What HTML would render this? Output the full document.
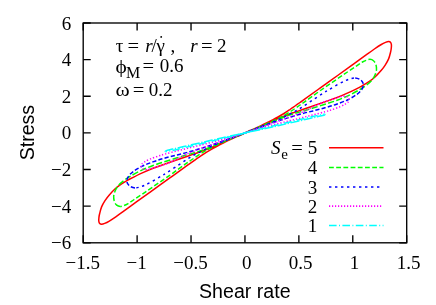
<!DOCTYPE html>
<html><head><meta charset="utf-8"><title>plot</title>
<style>
html,body{margin:0;padding:0;background:#fff;}
body{width:436px;height:305px;overflow:hidden;}
svg{display:block;filter:blur(0.3px);}
text{fill:#000;}
.s{font-family:"Liberation Serif",serif;}
.h{font-family:"Liberation Sans",sans-serif;}
</style></head><body>
<svg width="436" height="305" viewBox="0 0 436 305">
<rect x="0" y="0" width="436" height="305" fill="#fff"/>
<g fill="none" stroke-width="1.5" stroke-linejoin="round">
<path d="M245.10,132.90C246.73,132.13 248.35,131.25 250.00,130.50C251.65,129.75 253.25,129.17 255.00,128.40C256.75,127.63 258.58,126.80 260.50,125.90C262.42,125.00 264.58,123.95 266.50,123.00C268.42,122.05 270.08,121.20 272.00,120.20C273.92,119.20 276.00,118.12 278.00,117.00C280.00,115.88 282.00,114.75 284.00,113.50C286.00,112.25 288.17,110.75 290.00,109.50C291.83,108.25 293.33,107.17 295.00,106.00C296.67,104.83 298.33,103.68 300.00,102.50C301.67,101.32 301.67,101.30 305.00,98.90C308.33,96.50 314.33,92.17 320.00,88.10C325.67,84.03 333.37,78.53 339.00,74.50C344.63,70.47 349.05,67.33 353.80,63.90C358.55,60.47 364.07,56.38 367.50,53.90C370.93,51.42 372.10,50.57 374.40,49.00C376.70,47.43 379.45,45.60 381.30,44.50C383.15,43.40 384.30,42.90 385.50,42.40C386.70,41.90 387.67,41.53 388.50,41.50C389.33,41.47 390.02,41.67 390.50,42.20C390.98,42.73 391.27,43.73 391.40,44.70C391.53,45.67 391.43,46.78 391.30,48.00C391.17,49.22 391.05,50.18 390.60,52.00C390.15,53.82 389.50,56.72 388.60,58.90C387.70,61.08 386.45,63.15 385.20,65.10C383.95,67.05 382.80,68.62 381.10,70.60C379.40,72.58 377.02,75.15 375.00,77.00C372.98,78.85 371.03,80.30 369.00,81.70C366.97,83.10 364.40,84.47 362.80,85.40C361.20,86.33 361.88,86.05 359.40,87.30C356.92,88.55 351.72,91.15 347.90,92.90C344.08,94.65 340.32,96.30 336.50,97.80C332.68,99.30 328.92,100.53 325.00,101.90C321.08,103.27 316.60,104.77 313.00,106.00C309.40,107.23 306.23,108.32 303.40,109.30C300.57,110.28 298.23,111.13 296.00,111.90C293.77,112.67 292.00,113.18 290.00,113.90C288.00,114.62 286.00,115.42 284.00,116.20C282.00,116.98 280.00,117.77 278.00,118.60C276.00,119.43 273.92,120.37 272.00,121.20C270.08,122.03 268.42,122.73 266.50,123.60C264.58,124.47 262.42,125.55 260.50,126.40C258.58,127.25 256.75,127.98 255.00,128.70C253.25,129.42 251.65,130.00 250.00,130.70C248.35,131.40 246.73,132.13 245.10,132.90C243.47,133.67 241.85,134.55 240.20,135.30C238.55,136.05 236.95,136.63 235.20,137.40C233.45,138.17 231.62,139.00 229.70,139.90C227.78,140.80 225.62,141.85 223.70,142.80C221.78,143.75 220.12,144.60 218.20,145.60C216.28,146.60 214.20,147.68 212.20,148.80C210.20,149.92 208.20,151.05 206.20,152.30C204.20,153.55 202.03,155.05 200.20,156.30C198.37,157.55 196.87,158.63 195.20,159.80C193.53,160.97 191.87,162.12 190.20,163.30C188.53,164.48 188.53,164.50 185.20,166.90C181.87,169.30 175.87,173.63 170.20,177.70C164.53,181.77 156.83,187.27 151.20,191.30C145.57,195.33 141.15,198.47 136.40,201.90C131.65,205.33 126.13,209.42 122.70,211.90C119.27,214.38 118.10,215.23 115.80,216.80C113.50,218.37 110.75,220.20 108.90,221.30C107.05,222.40 105.90,222.90 104.70,223.40C103.50,223.90 102.53,224.27 101.70,224.30C100.87,224.33 100.18,224.13 99.70,223.60C99.22,223.07 98.93,222.07 98.80,221.10C98.67,220.13 98.77,219.02 98.90,217.80C99.03,216.58 99.15,215.62 99.60,213.80C100.05,211.98 100.70,209.08 101.60,206.90C102.50,204.72 103.75,202.65 105.00,200.70C106.25,198.75 107.40,197.18 109.10,195.20C110.80,193.22 113.18,190.65 115.20,188.80C117.22,186.95 119.17,185.50 121.20,184.10C123.23,182.70 125.80,181.33 127.40,180.40C129.00,179.47 128.32,179.75 130.80,178.50C133.28,177.25 138.48,174.65 142.30,172.90C146.12,171.15 149.88,169.50 153.70,168.00C157.52,166.50 161.28,165.27 165.20,163.90C169.12,162.53 173.60,161.03 177.20,159.80C180.80,158.57 183.97,157.48 186.80,156.50C189.63,155.52 191.97,154.67 194.20,153.90C196.43,153.13 198.20,152.62 200.20,151.90C202.20,151.18 204.20,150.38 206.20,149.60C208.20,148.82 210.20,148.03 212.20,147.20C214.20,146.37 216.28,145.43 218.20,144.60C220.12,143.77 221.78,143.07 223.70,142.20C225.62,141.33 227.78,140.25 229.70,139.40C231.62,138.55 233.45,137.82 235.20,137.10C236.95,136.38 238.55,135.80 240.20,135.10C241.85,134.40 243.47,133.67 245.10,132.90Z" stroke="#ff0000"/>
<path d="M245.10,132.90C248.40,131.58 251.43,130.38 255.00,128.90C258.57,127.42 262.67,125.72 266.50,124.00C270.33,122.28 274.08,120.63 278.00,118.60C281.92,116.57 286.33,114.07 290.00,111.80C293.67,109.53 297.50,106.70 300.00,105.00C302.50,103.30 301.67,103.97 305.00,101.60C308.33,99.23 313.57,95.30 320.00,90.80C326.43,86.30 337.48,78.77 343.60,74.60C349.72,70.43 353.55,67.90 356.70,65.80C359.85,63.70 360.87,62.93 362.50,62.00C364.13,61.07 365.25,60.65 366.50,60.20C367.75,59.75 368.83,59.22 370.00,59.30M245.10,132.90C241.80,134.22 238.77,135.42 235.20,136.90C231.63,138.38 227.53,140.08 223.70,141.80C219.87,143.52 216.12,145.17 212.20,147.20C208.28,149.23 203.87,151.73 200.20,154.00C196.53,156.27 192.70,159.10 190.20,160.80C187.70,162.50 188.53,161.83 185.20,164.20C181.87,166.57 176.63,170.50 170.20,175.00C163.77,179.50 152.72,187.03 146.60,191.20C140.48,195.37 136.65,197.90 133.50,200.00C130.35,202.10 129.33,202.87 127.70,203.80C126.07,204.73 124.95,205.15 123.70,205.60C122.45,206.05 121.37,206.58 120.20,206.50" stroke="#00ff00" stroke-dasharray="4.8,2.4"/>
<path d="M370.00,59.30C371.17,59.38 372.53,59.88 373.50,60.70C374.47,61.52 375.30,62.73 375.80,64.20C376.30,65.67 376.60,67.78 376.50,69.50C376.40,71.22 375.95,72.75 375.20,74.50C374.45,76.25 373.48,78.22 372.00,80.00C370.52,81.78 368.40,83.57 366.30,85.20C364.20,86.83 362.47,88.02 359.40,89.80C356.33,91.58 351.72,94.12 347.90,95.90C344.08,97.68 340.32,99.10 336.50,100.50C332.68,101.90 328.92,103.05 325.00,104.30C321.08,105.55 316.92,106.80 313.00,108.00C309.08,109.20 305.33,110.35 301.50,111.50C297.67,112.65 293.92,113.57 290.00,114.90C286.08,116.23 281.92,117.93 278.00,119.50C274.08,121.07 270.33,122.72 266.50,124.30C262.67,125.88 258.57,127.57 255.00,129.00C251.43,130.43 248.40,131.58 245.10,132.90M120.20,206.50C119.03,206.42 117.67,205.92 116.70,205.10C115.73,204.28 114.90,203.07 114.40,201.60C113.90,200.13 113.60,198.02 113.70,196.30C113.80,194.58 114.25,193.05 115.00,191.30C115.75,189.55 116.72,187.58 118.20,185.80C119.68,184.02 121.80,182.23 123.90,180.60C126.00,178.97 127.73,177.78 130.80,176.00C133.87,174.22 138.48,171.68 142.30,169.90C146.12,168.12 149.88,166.70 153.70,165.30C157.52,163.90 161.28,162.75 165.20,161.50C169.12,160.25 173.28,159.00 177.20,157.80C181.12,156.60 184.87,155.45 188.70,154.30C192.53,153.15 196.28,152.23 200.20,150.90C204.12,149.57 208.28,147.87 212.20,146.30C216.12,144.73 219.87,143.08 223.70,141.50C227.53,139.92 231.63,138.23 235.20,136.80C238.77,135.37 241.80,134.22 245.10,132.90" stroke="#00ff00" stroke-dasharray="6.2,2.4"/>
<path d="M245.10,132.90C248.40,131.65 251.43,130.48 255.00,129.10C258.57,127.72 262.67,126.15 266.50,124.60C270.33,123.05 274.08,121.57 278.00,119.80C281.92,118.03 286.33,115.88 290.00,114.00C293.67,112.12 296.50,110.63 300.00,108.50C303.50,106.37 307.18,103.72 311.00,101.20C314.82,98.68 319.87,95.33 322.90,93.40C325.93,91.47 326.63,91.13 329.20,89.60C331.77,88.07 335.67,85.67 338.30,84.20C340.93,82.73 343.05,81.68 345.00,80.80C346.95,79.92 348.30,79.38 350.00,78.90C351.70,78.42 353.43,77.75 355.20,77.90M245.10,132.90C241.80,134.15 238.77,135.32 235.20,136.70C231.63,138.08 227.53,139.65 223.70,141.20C219.87,142.75 216.12,144.23 212.20,146.00C208.28,147.77 203.87,149.92 200.20,151.80C196.53,153.68 193.70,155.17 190.20,157.30C186.70,159.43 183.02,162.08 179.20,164.60C175.38,167.12 170.33,170.47 167.30,172.40C164.27,174.33 163.57,174.67 161.00,176.20C158.43,177.73 154.53,180.13 151.90,181.60C149.27,183.07 147.15,184.12 145.20,185.00C143.25,185.88 141.90,186.42 140.20,186.90C138.50,187.38 136.77,188.05 135.00,187.90" stroke="#0000ff" stroke-dasharray="2.4,3.6"/>
<path d="M355.20,77.90C356.97,78.05 359.25,78.82 360.60,79.80C361.95,80.78 362.93,82.55 363.30,83.80C363.67,85.05 363.15,86.23 362.80,87.30C362.45,88.37 362.20,89.02 361.20,90.20C360.20,91.38 359.02,92.82 356.80,94.40C354.58,95.98 351.28,98.07 347.90,99.70C344.52,101.33 340.32,102.85 336.50,104.20C332.68,105.55 328.92,106.68 325.00,107.80C321.08,108.92 316.92,109.90 313.00,110.90C309.08,111.90 305.33,112.75 301.50,113.80C297.67,114.85 293.92,116.00 290.00,117.20C286.08,118.40 281.92,119.70 278.00,121.00C274.08,122.30 270.33,123.63 266.50,125.00C262.67,126.37 258.57,127.88 255.00,129.20C251.43,130.52 248.40,131.65 245.10,132.90M135.00,187.90C133.23,187.75 130.95,186.98 129.60,186.00C128.25,185.02 127.27,183.25 126.90,182.00C126.53,180.75 127.05,179.57 127.40,178.50C127.75,177.43 128.00,176.78 129.00,175.60C130.00,174.42 131.18,172.98 133.40,171.40C135.62,169.82 138.92,167.73 142.30,166.10C145.68,164.47 149.88,162.95 153.70,161.60C157.52,160.25 161.28,159.12 165.20,158.00C169.12,156.88 173.28,155.90 177.20,154.90C181.12,153.90 184.87,153.05 188.70,152.00C192.53,150.95 196.28,149.80 200.20,148.60C204.12,147.40 208.28,146.10 212.20,144.80C216.12,143.50 219.87,142.17 223.70,140.80C227.53,139.43 231.63,137.92 235.20,136.60C238.77,135.28 241.80,134.15 245.10,132.90" stroke="#0000ff" stroke-dasharray="4.2,2.2"/>
<path d="M245.10,132.90C248.40,131.80 251.43,130.55 255.00,129.30C258.57,128.05 262.67,126.75 266.50,125.40C270.33,124.05 274.08,122.60 278.00,121.20C281.92,119.80 285.50,118.70 290.00,117.00C294.50,115.30 301.17,112.68 305.00,111.00C308.83,109.32 310.40,108.20 313.00,106.90C315.60,105.60 318.60,104.12 320.60,103.20C322.60,102.28 322.35,102.28 325.00,101.40C327.65,100.52 333.45,98.77 336.50,97.90C339.55,97.03 341.48,96.35 343.30,96.20M245.10,132.90C241.80,134.00 238.77,135.25 235.20,136.50C231.63,137.75 227.53,139.05 223.70,140.40C219.87,141.75 216.12,143.20 212.20,144.60C208.28,146.00 204.70,147.10 200.20,148.80C195.70,150.50 189.03,153.12 185.20,154.80C181.37,156.48 179.80,157.60 177.20,158.90C174.60,160.20 171.60,161.68 169.60,162.60C167.60,163.52 167.85,163.52 165.20,164.40C162.55,165.28 156.75,167.03 153.70,167.90C150.65,168.77 148.72,169.45 146.90,169.60" stroke="#ff00ff" stroke-dasharray="1.2,1.8"/>
<path d="M343.30,96.20C345.12,96.05 346.43,96.48 347.40,97.00C348.37,97.52 348.92,98.53 349.10,99.30C349.28,100.07 349.08,100.83 348.50,101.60C347.92,102.37 347.03,103.03 345.60,103.90C344.17,104.77 342.18,105.83 339.90,106.80C337.62,107.77 334.38,108.87 331.90,109.70C329.42,110.53 328.15,110.93 325.00,111.80C321.85,112.67 316.92,113.90 313.00,114.90C309.08,115.90 305.33,116.85 301.50,117.80C297.67,118.75 293.92,119.63 290.00,120.60C286.08,121.57 281.92,122.58 278.00,123.60C274.08,124.62 270.33,125.65 266.50,126.70C262.67,127.75 258.57,128.87 255.00,129.90C251.43,130.93 248.40,131.80 245.10,132.90M146.90,169.60C145.08,169.75 143.77,169.32 142.80,168.80C141.83,168.28 141.28,167.27 141.10,166.50C140.92,165.73 141.12,164.97 141.70,164.20C142.28,163.43 143.17,162.77 144.60,161.90C146.03,161.03 148.02,159.97 150.30,159.00C152.58,158.03 155.82,156.93 158.30,156.10C160.78,155.27 162.05,154.87 165.20,154.00C168.35,153.13 173.28,151.90 177.20,150.90C181.12,149.90 184.87,148.95 188.70,148.00C192.53,147.05 196.28,146.17 200.20,145.20C204.12,144.23 208.28,143.22 212.20,142.20C216.12,141.18 219.87,140.15 223.70,139.10C227.53,138.05 231.63,136.93 235.20,135.90C238.77,134.87 241.80,134.00 245.10,132.90" stroke="#ff00ff" stroke-dasharray="1.3,1.9"/>
<path d="M245.10,132.90C248.40,132.12 251.43,131.20 255.00,130.30C258.57,129.40 262.67,128.42 266.50,127.50C270.33,126.58 274.08,125.73 278.00,124.80C281.92,123.87 286.33,122.78 290.00,121.90C293.67,121.02 296.17,120.42 300.00,119.50C303.83,118.58 309.50,117.20 313.00,116.40C316.50,115.60 319.07,115.07 321.00,114.70C322.93,114.33 324.12,114.12 324.60,114.20M245.10,132.90C241.80,133.68 238.77,134.60 235.20,135.50C231.63,136.40 227.53,137.38 223.70,138.30C219.87,139.22 216.12,140.07 212.20,141.00C208.28,141.93 203.87,143.02 200.20,143.90C196.53,144.78 194.03,145.38 190.20,146.30C186.37,147.22 180.70,148.60 177.20,149.40C173.70,150.20 171.13,150.73 169.20,151.10C167.27,151.47 166.08,151.68 165.60,151.60" stroke="#00ffff" stroke-dasharray="7.6,2.4,1,2.4"/>
<path d="M324.60,114.20C325.08,114.28 325.08,114.78 323.90,115.20C322.72,115.62 320.65,115.97 317.50,116.70C314.35,117.43 309.58,118.55 305.00,119.60C300.42,120.65 294.50,121.98 290.00,123.00C285.50,124.02 281.92,124.82 278.00,125.70C274.08,126.58 270.33,127.45 266.50,128.30C262.67,129.15 258.57,130.03 255.00,130.80C251.43,131.57 248.40,132.12 245.10,132.90M165.60,151.60C165.12,151.52 165.12,151.02 166.30,150.60C167.48,150.18 169.55,149.83 172.70,149.10C175.85,148.37 180.62,147.25 185.20,146.20C189.78,145.15 195.70,143.82 200.20,142.80C204.70,141.78 208.28,140.98 212.20,140.10C216.12,139.22 219.87,138.35 223.70,137.50C227.53,136.65 231.63,135.77 235.20,135.00C238.77,134.23 241.80,133.68 245.10,132.90" stroke="#00ffff" stroke-dasharray="9,1.6,1.2,1.6"/>
</g>
<g fill="none" stroke-width="1.55">
<path d="M329.0,147.8H383.5" stroke="#ff0000"/>
<path d="M329.0,167.5H383.5" stroke="#00ff00" stroke-dasharray="4.8,2.4"/>
<path d="M329.0,186.9H382.0" stroke="#0000ff" stroke-dasharray="2.4,3.6"/>
<path d="M329.0,206.1H382.0" stroke="#ff00ff" stroke-dasharray="1.2,1.8"/>
<path d="M329.0,225.5H383.5" stroke="#00ffff" stroke-dasharray="7.6,2.4,1,2.4"/>
</g>
<g fill="none" stroke="#000" stroke-width="1.35">
<rect x="83.2" y="23.0" width="323.5" height="219.8"/>
<path d="M83.20,242.8v-7.5M83.20,23.0v7.5M83.2,23.00h7.5M406.7,23.00h-7.5M137.12,242.8v-7.5M137.12,23.0v7.5M83.2,59.63h7.5M406.7,59.63h-7.5M191.03,242.8v-7.5M191.03,23.0v7.5M83.2,96.27h7.5M406.7,96.27h-7.5M244.95,242.8v-7.5M244.95,23.0v7.5M83.2,132.90h7.5M406.7,132.90h-7.5M298.87,242.8v-7.5M298.87,23.0v7.5M83.2,169.53h7.5M406.7,169.53h-7.5M352.78,242.8v-7.5M352.78,23.0v7.5M83.2,206.17h7.5M406.7,206.17h-7.5M406.70,242.8v-7.5M406.70,23.0v7.5M83.2,242.80h7.5M406.7,242.80h-7.5"/>
</g>
<g class="s" font-size="19">
<text x="82.7" y="269" text-anchor="middle">−1.5</text>
<text x="136.6" y="269" text-anchor="middle">−1</text>
<text x="190.5" y="269" text-anchor="middle">−0.5</text>
<text x="246.8" y="269" text-anchor="middle">0</text>
<text x="300.7" y="269" text-anchor="middle">0.5</text>
<text x="354.6" y="269" text-anchor="middle">1</text>
<text x="408.5" y="269" text-anchor="middle">1.5</text>
<text x="71.3" y="29.5" text-anchor="end">6</text>
<text x="71.3" y="66.1" text-anchor="end">4</text>
<text x="71.3" y="102.8" text-anchor="end">2</text>
<text x="71.3" y="139.4" text-anchor="end">0</text>
<text x="71.3" y="176.0" text-anchor="end">−2</text>
<text x="71.3" y="212.7" text-anchor="end">−4</text>
<text x="71.3" y="249.3" text-anchor="end">−6</text>
<text x="317.2" y="153.6" text-anchor="end">5</text>
<text x="317.2" y="173.8" text-anchor="end">4</text>
<text x="317.2" y="193.6" text-anchor="end">3</text>
<text x="317.2" y="213.0" text-anchor="end">2</text>
<text x="317.2" y="232.3" text-anchor="end">1</text>
<text x="271" y="153.6" font-style="italic">S</text>
<text x="281.3" y="159" font-size="15">e</text>
<text x="291.3" y="153.9" textLength="11.6" lengthAdjust="spacingAndGlyphs">=</text>
<text x="115.7" y="51.7">τ</text>
<text x="127.5" y="51.7" textLength="11.6" lengthAdjust="spacingAndGlyphs">=</text>
<text x="145.2" y="51.7" font-style="italic">r</text>
<text x="151.6" y="51.7">/</text>
<text x="156.6" y="51.7">γ</text>
<circle cx="161.2" cy="36.9" r="0.95" fill="#000"/>
<text x="170.4" y="51.7">,</text>
<text x="190.3" y="51.7" font-style="italic">r</text>
<text x="201.0" y="51.7" textLength="11.6" lengthAdjust="spacingAndGlyphs">=</text>
<text x="217.0" y="51.7">2</text>
<text x="115.6" y="73.0" textLength="11.3" lengthAdjust="spacingAndGlyphs">ϕ</text>
<text x="125.9" y="77.9" font-size="16">M</text>
<text x="142.5" y="72.4" textLength="11.6" lengthAdjust="spacingAndGlyphs">=</text>
<text x="159.8" y="72.4">0.6</text>
<text x="115.5" y="95.6" textLength="14.2" lengthAdjust="spacingAndGlyphs">ω</text>
<text x="132.8" y="95.6" textLength="11.6" lengthAdjust="spacingAndGlyphs">=</text>
<text x="148.7" y="95.6">0.2</text>
</g>
<g class="h" font-size="19.6">
<text x="244.8" y="297.8" text-anchor="middle">Shear rate</text>
<text transform="translate(34.2,132.6) rotate(-90)" text-anchor="middle">Stress</text>
</g>
</svg>
</body></html>
